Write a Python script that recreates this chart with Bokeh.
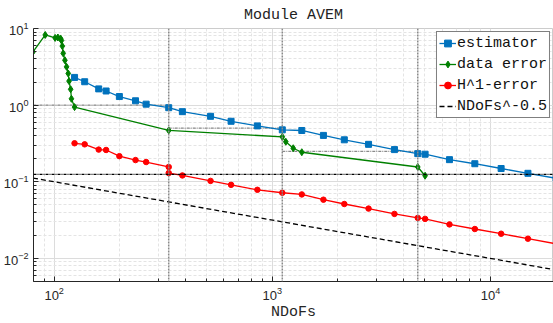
from bokeh.plotting import figure
from bokeh.models import Span, Legend, LegendItem, FixedTicker
from bokeh.embed import file_html
from bokeh.resources import INLINE

# ---- data ----
ndofs_est = [124, 138, 160, 173, 199, 236, 264, 335, 387, 521, 647, 854, 1111, 1365,
             1715, 2138, 2761, 3630, 4642, 5016, 6486, 8478, 11190, 14850, 20000]
estimator = [2.30, 2.02, 1.63, 1.53, 1.295, 1.14, 1.03, 0.926, 0.822, 0.715, 0.616, 0.536,
             0.476, 0.467, 0.403, 0.353, 0.308, 0.263, 0.233, 0.229, 0.1945, 0.172, 0.149,
             0.129, 0.111]

ndofs_data = [80, 91, 101, 104, 107, 108, 109, 110, 112, 114, 116, 117, 119, 120, 124,
              335, 1111, 1153, 1247, 1365, 4642, 5016]
data_error = [4.97, 8.24, 7.54, 7.63, 7.41, 6.98, 5.89, 4.74, 3.85, 3.16, 2.59, 2.06, 1.61,
              1.21, 0.943, 0.468, 0.386, 0.333, 0.274, 0.243, 0.156, 0.120]

ndofs_h1 = [124, 138, 160, 173, 199, 236, 264, 335, 335, 387, 521, 647, 854, 1111, 1365,
            1715, 2138, 2761, 3630, 4642, 5016, 6486, 8478, 11190, 14850, 20000]
h1_error = [0.318, 0.308, 0.263, 0.260, 0.216, 0.192, 0.181, 0.156, 0.130, 0.121, 0.1027,
            0.0912, 0.0786, 0.0719, 0.0684, 0.0584, 0.0513, 0.0447, 0.0381, 0.0338, 0.0328,
            0.0278, 0.0242, 0.0210, 0.0181, 0.0155]

ref_ndofs = [80, 20000]
ref_rate = -0.5
ref_values = [n ** ref_rate for n in ref_ndofs]

stage_ndofs = [335, 1111, 4642]
tol_levels = [1.0, 0.5, 0.25]
tol_start = [80.4, 335, 1111]
tol_end = [335, 1111, 4642]
final_tol = 0.125

x_lim = (80.4, 19450)
y_lim = (0.005, 10)

MONO = "Liberation Mono"
SANS = "Liberation Sans"

p = figure(width=553, height=323, x_axis_type="log", y_axis_type="log",
           x_range=x_lim, y_range=y_lim, output_backend="svg", toolbar_location=None,
           title="Module AVEM", min_border_left=31, min_border_right=0,
           min_border_top=10, min_border_bottom=10)
p.title.align = "center"
p.title.text_font = MONO
p.title.text_font_size = "15px"
p.title.text_font_style = "normal"
p.title.text_color = "#222222"
p.title.offset = 0
p.title.standoff = 9

p.outline_line_color = "#cccccc"
p.background_fill_color = "white"
p.border_fill_color = "white"

for ax in (p.xaxis[0], p.yaxis[0]):
    ax.major_tick_in = 5
    ax.major_tick_out = 0
    ax.minor_tick_in = 3
    ax.minor_tick_out = 0
    ax.axis_line_color = "#262626"
    ax.major_tick_line_color = "#262626"
    ax.minor_tick_line_color = "#262626"
    ax.major_label_text_font = SANS
    ax.major_label_text_font_size = "13px"
    ax.major_label_text_color = "#262626"

p.xaxis.ticker = FixedTicker(ticks=[100, 1000, 10000],
                             minor_ticks=[v * m for v in (10, 100, 1000, 10000) for m in range(2, 10)])
p.yaxis.ticker = FixedTicker(ticks=[0.01, 0.1, 1, 10],
                             minor_ticks=[v * m for v in (0.001, 0.01, 0.1, 1) for m in range(2, 10)])
p.xaxis.axis_label = "NDoFs"
p.xaxis.axis_label_text_font = MONO
p.xaxis.axis_label_text_font_size = "15px"
p.xaxis.axis_label_text_font_style = "normal"
p.xaxis.axis_label_text_color = "#262626"
p.xaxis.axis_label_standoff = 1

p.grid.grid_line_color = "#dcdcdc"
p.grid.grid_line_width = 1
p.grid.minor_grid_line_color = "#e4e4e4"
p.grid.minor_grid_line_dash = "3 2"

# stage markers
for s in stage_ndofs:
    p.add_layout(Span(location=s, dimension="height", line_color="#8a8a8a",
                      line_width=1.5, line_dash="2 1"))
p.segment(x0=tol_start, y0=tol_levels, x1=tol_end, y1=tol_levels,
          line_color="#8a8a8a", line_width=1.3, line_dash="3 1 1 1")
p.add_layout(Span(location=final_tol, dimension="width", line_color="black",
                  line_width=1.3, line_dash="3 1 1 1"))

blue = "#0072BD"
green = "#008000"
red = "#FF0000"

r_ref = p.line(ref_ndofs, ref_values, line_color="black", line_width=1.3, line_dash="5 3")

r_est_l = p.line(ndofs_est, estimator, line_color=blue, line_width=1.3)
r_est_m = p.scatter(ndofs_est, estimator, marker="square", size=6, fill_color=blue, line_color=blue)

r_dat_l = p.line(ndofs_data, data_error, line_color=green, line_width=1.3)
r_dat_m = p.scatter(ndofs_data, data_error, marker="diamond", size=7, fill_color=green, line_color=green)

r_h1_l = p.line(ndofs_h1, h1_error, line_color=red, line_width=1.3)
r_h1_m = p.scatter(ndofs_h1, h1_error, marker="circle", size=5.5, fill_color=red, line_color=red)

legend = Legend(items=[
    LegendItem(label="estimator", renderers=[r_est_l, r_est_m]),
    LegendItem(label="data error", renderers=[r_dat_l, r_dat_m]),
    LegendItem(label="H^1-error", renderers=[r_h1_l, r_h1_m]),
    LegendItem(label="NDoFs^-0.5", renderers=[r_ref]),
], location="top_right")
legend.label_text_font = MONO
legend.label_text_font_size = "15px"
legend.label_text_color = "#111111"
legend.border_line_color = "black"
legend.border_line_width = 1
legend.background_fill_alpha = 1
legend.glyph_width = 17
legend.glyph_height = 18
legend.label_standoff = 1
legend.padding = 2
legend.spacing = 3
legend.margin = 3
p.add_layout(legend)

open("out.html", "w").write(file_html(p, INLINE))
